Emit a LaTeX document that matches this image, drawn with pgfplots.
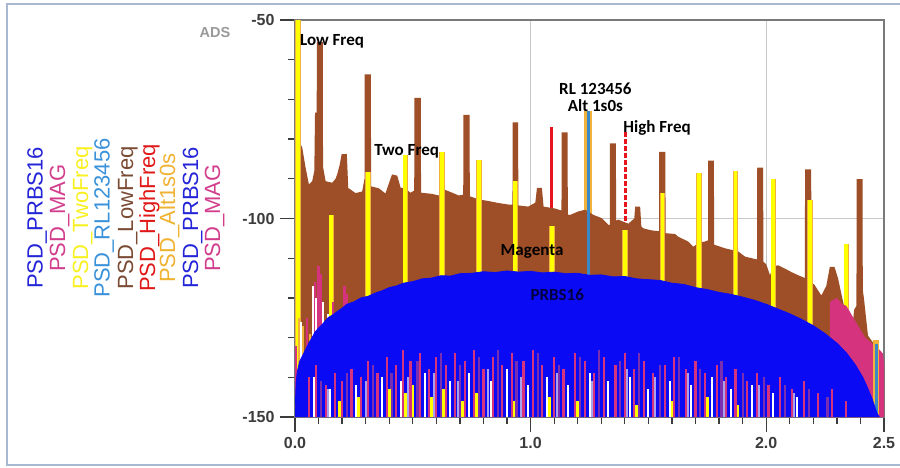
\documentclass[border=0pt]{standalone}
\usepackage{pgfplots}
\pgfplotsset{compat=1.18}
\usepackage{fontspec}
\setmainfont{Liberation Sans}
\newfontfamily\carlito{Carlito}
\definecolor{framec}{HTML}{A9B9D2}
\definecolor{brownc}{HTML}{9E4F27}
\definecolor{prbs}{HTML}{0A0AF5}
\definecolor{yel}{HTML}{FFFF00}
\definecolor{alt}{HTML}{F0B23A}
\definecolor{rl}{HTML}{3A88C8}
\definecolor{hf}{HTML}{E8141E}
\definecolor{mag}{HTML}{D6337F}
\definecolor{purp}{HTML}{7A2FB0}
\definecolor{lav}{HTML}{A8A0F0}
\definecolor{gridc}{HTML}{C8C8C8}
\definecolor{axc}{HTML}{7A7A7A}
\definecolor{tickc}{HTML}{3C3C3C}
\definecolor{lgblue}{HTML}{2424D8}
\definecolor{lgmag}{HTML}{D23E8C}
\definecolor{lgyel}{HTML}{F8F020}
\definecolor{lgrl}{HTML}{3A92DA}
\definecolor{lgbrown}{HTML}{7A4A32}
\definecolor{lgred}{HTML}{E01818}
\definecolor{lgalt}{HTML}{F0B232}
\pgfplotsset{spk/.style={unbounded coords=jump, line cap=butt, mark=none}}
\begin{document}
\begin{tikzpicture}
\useasboundingbox (0pt,0pt) rectangle (900pt,467pt);
\draw[framec, line width=2pt] (6.5pt,2pt) rectangle (910pt,463pt);
% legend (rotated)
\begin{scope}[every node/.style={rotate=90, anchor=base, inner sep=0pt, font=\fontsize{22}{22}\selectfont}]
\node[text=lgblue]  at (42.7pt,249pt) {PSD\_PRBS16};
\node[text=lgmag]   at (65pt,249pt) {PSD\_MAG};
\node[text=lgyel]   at (88pt,249pt) {PSD\_TwoFreq};
\node[text=lgrl]    at (109.5pt,249pt) {PSD\_RL123456};
\node[text=lgbrown] at (133pt,249pt) {PSD\_LowFreq};
\node[text=lgred]   at (155pt,249pt) {PSD\_HighFreq};
\node[text=lgalt]   at (175pt,249pt) {PSD\_Alt1s0s};
\node[text=lgblue]  at (198pt,249pt) {PSD\_PRBS16};
\node[text=lgmag]   at (220pt,249pt) {PSD\_MAG};
\end{scope}
\node[text=black!40, font=\bfseries\fontsize{14.5}{14.5}\selectfont, inner sep=0pt] at (215pt,434pt) {ADS};
\begin{axis}[
  at={(295pt,50pt)}, anchor=south west,
  scale only axis, width=589pt, height=397pt,
  xmin=0, xmax=2.5, ymin=-150, ymax=-50,
  xtick={0,1,2,2.5}, xticklabels={0.0,1.0,2.0,2.5},
  ytick={-150,-100,-50}, yticklabels={-150,-100,-50},
  minor xtick={0.1,0.2,0.3,0.4,0.5,0.6,0.7,0.8,0.9,1.1,1.2,1.3,1.4,1.5,1.6,1.7,1.8,1.9,2.1,2.2,2.3,2.4},
  minor ytick={-140,-130,-120,-110,-90,-80,-70,-60},
  xtick pos=lower, ytick pos=left, tick align=outside,
  major tick length=15pt, minor tick length=7pt,
  every tick/.style={tickc, line width=1.3pt},
  grid=major, major grid style={gridc, line width=1pt},
  axis line style={axc, line width=1.6pt},
  ticklabel style={font=\bfseries\fontsize{16}{16}\selectfont, text=tickc},
  xticklabel style={yshift=-2pt},
  yticklabel style={xshift=-2pt},
]
% HighFreq (red) spikes
\addplot[spk, hf, line width=3pt] coordinates {(1.09,-150)(1.09,-77)};
\addplot[spk, hf, line width=3pt, dash pattern=on 5pt off 2pt] coordinates {(1.404,-150)(1.404,-78.3)};
% Alt1s0s (orange) bar
\addplot[spk, alt, line width=8pt] coordinates {(1.245,-150)(1.245,-72.8)};
% LowFreq (brown) spectrum
\addplot[fill=brownc, draw=none] coordinates {
(0,-150)(0,-50)(0.006,-50)(0.007,-80)(0.017,-80.5)(0.031,-82.2)(0.045,-87.2)(0.059,-91.4)(0.073,-90.6)(0.082,-88)
(0.085,-73.3)(0.092,-73.3)(0.093,-55.5)(0.118,-55.5)(0.119,-87)(0.13,-90.6)(0.158,-91)(0.172,-90)(0.179,-88.9)(0.19,-86.4)
(0.198,-83.8)(0.22,-83.8)(0.226,-92.3)(0.257,-93.6)(0.285,-93.2)(0.295,-90)(0.296,-63.7)(0.322,-63.7)(0.323,-91.9)(0.356,-92.4)
(0.384,-93.7)(0.405,-90)(0.412,-88.9)(0.434,-89.2)(0.448,-92.2)(0.469,-92.5)(0.49,-93.5)(0.506,-93)(0.507,-69.6)(0.534,-69.6)
(0.535,-93.5)(0.582,-93.8)(0.61,-94.2)(0.625,-93)(0.638,-92.8)(0.667,-93.5)(0.695,-94.2)(0.714,-94)(0.715,-73.9)(0.741,-73.9)
(0.742,-94.4)(0.78,-95.2)(0.822,-95.6)(0.864,-96.1)(0.907,-96.5)(0.923,-96.5)(0.924,-75.8)(0.947,-75.8)(0.948,-96.7)(0.99,-97)
(1.02,-96)(1.027,-92.3)(1.048,-92.3)(1.055,-97)(1.105,-97.5)(1.131,-98)(1.132,-78.3)(1.157,-78.3)(1.158,-99)(1.168,-99.1)
(1.203,-98.2)(1.232,-97.8)(1.267,-99.1)(1.302,-99.9)(1.33,-101.6)(1.336,-101.6)(1.337,-81.1)(1.362,-81.1)(1.363,-100.5)(1.373,-100.3)
(1.415,-101.3)(1.44,-100)(1.444,-97)(1.465,-97)(1.47,-102)(1.479,-102.5)(1.514,-103)(1.545,-103.2)(1.546,-83.2)(1.572,-83.2)
(1.573,-103.7)(1.613,-103.9)(1.627,-104.6)(1.669,-105.8)(1.69,-107.1)(1.72,-106)(1.74,-105.8)(1.753,-105.5)(1.754,-85.4)(1.778,-85.4)
(1.779,-106.6)(1.825,-107.5)(1.881,-108.3)(1.91,-109.6)(1.938,-110)(1.961,-110.3)(1.962,-87.2)(1.987,-87.2)(1.988,-110.9)(2.0,-111.5)
(2.016,-114.3)(2.03,-112)(2.051,-111.8)(2.079,-112.6)(2.107,-113.5)(2.136,-114.3)(2.164,-115)(2.165,-87.6)(2.191,-87.6)(2.192,-116)
(2.206,-116.8)(2.234,-119.4)(2.255,-117)(2.27,-112.2)(2.29,-112.2)(2.305,-115.1)(2.333,-122.8)(2.361,-131.2)(2.373,-123)(2.383,-122)
(2.384,-90.1)(2.409,-90.1)(2.41,-118)(2.415,-120.2)(2.432,-129.5)(2.453,-131.2)(2.47,-133)(2.488,-136.7)(2.5,-137)(2.5,-150)};
% TwoFreq (yellow) spikes with golden edges
\addplot[spk, alt, line width=5.5pt] coordinates {
(0.012,-150)(0.012,-50)(0.012,nan) (0.154,-150)(0.154,-99)(0.154,nan) (0.31,-150)(0.31,-88.3)(0.31,nan)
(0.468,-150)(0.468,-84)(0.468,nan) (0.624,-150)(0.624,-83.3)(0.624,nan) (0.78,-150)(0.78,-85.3)(0.78,nan)
(0.935,-150)(0.935,-90.6)(0.935,nan) (1.09,-150)(1.09,-102)(1.09,nan) (1.40,-150)(1.40,-103)(1.40,nan)
(1.56,-150)(1.56,-93.6)(1.56,nan) (1.715,-150)(1.715,-88.6)(1.715,nan) (1.87,-150)(1.87,-88.1)(1.87,nan)
(2.03,-150)(2.03,-90.1)(2.03,nan) (2.185,-150)(2.185,-95.4)(2.185,nan) (2.34,-150)(2.34,-106.4)};
\addplot[spk, yel, line width=3.8pt] coordinates {
(0.012,-150)(0.012,-50)(0.012,nan) (0.154,-150)(0.154,-99)(0.154,nan) (0.31,-150)(0.31,-88.3)(0.31,nan)
(0.468,-150)(0.468,-84)(0.468,nan) (0.624,-150)(0.624,-83.3)(0.624,nan) (0.78,-150)(0.78,-85.3)(0.78,nan)
(0.935,-150)(0.935,-90.6)(0.935,nan) (1.09,-150)(1.09,-102)(1.09,nan) (1.40,-150)(1.40,-103)(1.40,nan)
(1.56,-150)(1.56,-93.6)(1.56,nan) (1.715,-150)(1.715,-88.6)(1.715,nan) (1.87,-150)(1.87,-88.1)(1.87,nan)
(2.03,-150)(2.03,-90.1)(2.03,nan) (2.185,-150)(2.185,-95.4)(2.185,nan) (2.34,-150)(2.34,-106.4)};
% RL123456 (steel blue) line
\addplot[spk, rl, line width=3pt] coordinates {(1.245,-150)(1.245,-72.8)};
% MAG near the band edges
\addplot[fill=mag, draw=none] coordinates {
(2.27,-150)(2.27,-121)(2.30,-120)(2.32,-121.5)(2.34,-122)(2.36,-124)(2.38,-126)(2.40,-128)(2.42,-130)
(2.44,-131)(2.46,-132)(2.48,-133)(2.495,-134)(2.5,-136)(2.5,-150)};
\addplot[spk, alt, line width=6pt] coordinates {(2.468,-150)(2.468,-130.5)};
\addplot[spk, rl, line width=3pt] coordinates {(2.468,-150)(2.468,-131.5)};
\addplot[spk, mag, line width=2.2pt] coordinates {
(0.004,-150)(0.004,-132)(0.004,nan) (0.02,-150)(0.02,-128)(0.02,nan) (0.03,-150)(0.03,-131)(0.03,nan)
(0.05,-150)(0.05,-125)(0.05,nan) (0.085,-150)(0.085,-116)(0.085,nan) (0.1,-150)(0.1,-112)(0.1,nan)
(0.11,-150)(0.11,-114)(0.11,nan) (0.21,-150)(0.21,-117)(0.21,nan) (0.22,-150)(0.22,-119)(0.22,nan)
(0.16,-150)(0.16,-121)};
\addplot[spk, white, line width=2pt] coordinates {
(0.025,-150)(0.025,-126)(0.025,nan) (0.075,-150)(0.075,-117)(0.075,nan) (0.09,-150)(0.09,-120)(0.09,nan)
(0.12,-150)(0.12,-121)(0.12,nan) (0.14,-150)(0.14,-124)};
\addplot[spk, alt, line width=2pt] coordinates {
(0.015,-150)(0.015,-125)(0.015,nan) (0.035,-150)(0.035,-127)(0.035,nan) (0.065,-150)(0.065,-129)};
% PRBS16 (blue)
\addplot[fill=prbs, draw=prbs, line width=0.8pt] coordinates {
(0,-150)(0.002,-146)(0.005,-141)(0.01,-138.5)(0.02,-136)(0.03,-134.8)(0.045,-133)(0.06,-131.2)(0.07,-130.3)(0.085,-128.6)
(0.1,-127.6)(0.12,-126.4)(0.14,-125)(0.16,-124.3)(0.18,-123.4)(0.2,-122.6)(0.22,-121.6)(0.25,-121)(0.28,-120)(0.31,-119.6)
(0.34,-118.8)(0.37,-118.2)(0.4,-117.4)(0.43,-117)(0.46,-116.3)(0.5,-115.9)(0.54,-115.2)(0.58,-115)(0.62,-114.4)(0.66,-114.5)
(0.7,-113.9)(0.75,-113.8)(0.8,-113.4)(0.85,-113.6)(0.9,-113.2)(0.95,-113.5)(1.0,-113.3)(1.05,-113.7)(1.1,-113.5)(1.15,-113.9)
(1.2,-113.8)(1.25,-114.3)(1.3,-114.2)(1.35,-114.7)(1.4,-114.6)(1.45,-115.2)(1.5,-115.4)(1.55,-115.6)(1.6,-116.3)(1.65,-116.6)
(1.7,-117.4)(1.75,-117.9)(1.8,-118.6)(1.85,-119.1)(1.9,-119.8)(1.95,-120.6)(2.0,-121.6)(2.05,-122.8)(2.1,-124)(2.15,-125.4)
(2.2,-127)(2.25,-129)(2.3,-131.4)(2.34,-133.8)(2.38,-137)(2.41,-140)(2.43,-142.6)(2.45,-145.5)(2.47,-149)(2.48,-150)};
% low-level noise of the other records over the blue
\addplot[spk, mag, line width=2.2pt] coordinates {
(0.06,-150)(0.06,-140)(0.06,nan) (0.09,-150)(0.09,-137)(0.09,nan) (0.13,-150)(0.13,-142)(0.13,nan)
(0.17,-150)(0.17,-139)(0.17,nan) (0.2,-150)(0.2,-141)(0.2,nan) (0.24,-150)(0.24,-138)(0.24,nan)
(0.28,-150)(0.28,-140)(0.28,nan) (0.31,-150)(0.31,-136)(0.31,nan) (0.35,-150)(0.35,-139)(0.35,nan)
(0.39,-150)(0.39,-135)(0.39,nan) (0.43,-150)(0.43,-137)(0.43,nan) (0.46,-150)(0.46,-133)(0.46,nan)
(0.49,-150)(0.49,-136)(0.49,nan) (0.53,-150)(0.53,-134)(0.53,nan) (0.57,-150)(0.57,-138)(0.57,nan)
(0.6,-150)(0.6,-135)(0.6,nan) (0.64,-150)(0.64,-137)(0.64,nan) (0.68,-150)(0.68,-134)(0.68,nan)
(0.72,-150)(0.72,-136)(0.72,nan) (0.76,-150)(0.76,-133)(0.76,nan) (0.8,-150)(0.8,-138)(0.8,nan)
(0.84,-150)(0.84,-135)(0.84,nan) (0.88,-150)(0.88,-137)(0.88,nan) (0.92,-150)(0.92,-134)(0.92,nan)
(0.97,-150)(0.97,-136)(0.97,nan) (1.01,-150)(1.01,-133)(1.01,nan) (1.05,-150)(1.05,-137)(1.05,nan)
(1.1,-150)(1.1,-135)(1.1,nan) (1.14,-150)(1.14,-138)(1.14,nan) (1.19,-150)(1.19,-134)(1.19,nan)
(1.23,-150)(1.23,-136)(1.23,nan) (1.27,-150)(1.27,-139)(1.27,nan) (1.31,-150)(1.31,-135)(1.31,nan)
(1.36,-150)(1.36,-137)(1.36,nan) (1.4,-150)(1.4,-134)(1.4,nan) (1.44,-150)(1.44,-138)(1.44,nan)
(1.48,-150)(1.48,-136)(1.48,nan) (1.52,-150)(1.52,-139)(1.52,nan) (1.57,-150)(1.57,-137)(1.57,nan)
(1.61,-150)(1.61,-135)(1.61,nan) (1.66,-150)(1.66,-138)(1.66,nan) (1.7,-150)(1.7,-136)(1.7,nan)
(1.74,-150)(1.74,-139)(1.74,nan) (1.79,-150)(1.79,-137)(1.79,nan) (1.83,-150)(1.83,-140)(1.83,nan)
(1.87,-150)(1.87,-138)(1.87,nan) (1.92,-150)(1.92,-141)(1.92,nan) (1.96,-150)(1.96,-139)(1.96,nan)
(2.01,-150)(2.01,-142)(2.01,nan) (2.06,-150)(2.06,-140)(2.06,nan) (2.11,-150)(2.11,-143)(2.11,nan)
(2.16,-150)(2.16,-141)(2.16,nan) (2.22,-150)(2.22,-144)(2.22,nan) (2.28,-150)(2.28,-143)(2.28,nan)
(2.34,-150)(2.34,-146)};
\addplot[spk, purp, line width=2.2pt] coordinates {
(0.11,-150)(0.11,-141)(0.11,nan) (0.22,-150)(0.22,-139)(0.22,nan) (0.33,-150)(0.33,-137)(0.33,nan)
(0.41,-150)(0.41,-139)(0.41,nan) (0.52,-150)(0.52,-136)(0.52,nan) (0.62,-150)(0.62,-134)(0.62,nan)
(0.7,-150)(0.7,-137)(0.7,nan) (0.78,-150)(0.78,-135)(0.78,nan) (0.86,-150)(0.86,-133)(0.86,nan)
(0.94,-150)(0.94,-136)(0.94,nan) (1.03,-150)(1.03,-134)(1.03,nan) (1.12,-150)(1.12,-137)(1.12,nan)
(1.21,-150)(1.21,-135)(1.21,nan) (1.29,-150)(1.29,-133)(1.29,nan) (1.38,-150)(1.38,-136)(1.38,nan)
(1.46,-150)(1.46,-134)(1.46,nan) (1.55,-150)(1.55,-137)(1.55,nan) (1.63,-150)(1.63,-135)(1.63,nan)
(1.72,-150)(1.72,-138)(1.72,nan) (1.81,-150)(1.81,-136)(1.81,nan) (1.9,-150)(1.9,-139)(1.9,nan)
(1.99,-150)(1.99,-140)(1.99,nan) (2.08,-150)(2.08,-142)(2.08,nan) (2.18,-150)(2.18,-143)(2.18,nan)
(2.26,-150)(2.26,-145)};
\addplot[spk, lav, line width=2pt] coordinates {
(0.14,-150)(0.14,-143)(0.14,nan) (0.3,-150)(0.3,-141)(0.3,nan) (0.48,-150)(0.48,-140)(0.48,nan)
(0.59,-150)(0.59,-139)(0.59,nan) (0.69,-150)(0.69,-141)(0.69,nan) (0.82,-150)(0.82,-138)(0.82,nan)
(0.96,-150)(0.96,-140)(0.96,nan) (1.11,-150)(1.11,-139)(1.11,nan) (1.26,-150)(1.26,-141)(1.26,nan)
(1.41,-150)(1.41,-138)(1.41,nan) (1.53,-150)(1.53,-140)(1.53,nan) (1.67,-150)(1.67,-139)(1.67,nan)
(1.82,-150)(1.82,-141)(1.82,nan) (1.97,-150)(1.97,-142)(1.97,nan) (2.12,-150)(2.12,-144)};
\addplot[spk, white, line width=2pt] coordinates {
(0.08,-150)(0.08,-140)(0.08,nan) (0.15,-150)(0.15,-143)(0.15,nan) (0.26,-150)(0.26,-142)(0.26,nan)
(0.37,-150)(0.37,-140)(0.37,nan) (0.45,-150)(0.45,-141)(0.45,nan) (0.55,-150)(0.55,-139)(0.55,nan)
(0.66,-150)(0.66,-141)(0.66,nan) (0.74,-150)(0.74,-139)(0.74,nan) (0.83,-150)(0.83,-141)(0.83,nan)
(0.9,-150)(0.9,-138)(0.9,nan) (0.99,-150)(0.99,-142)(0.99,nan) (1.07,-150)(1.07,-140)(1.07,nan)
(1.16,-150)(1.16,-142)(1.16,nan) (1.25,-150)(1.25,-139)(1.25,nan) (1.33,-150)(1.33,-141)(1.33,nan)
(1.42,-150)(1.42,-140)(1.42,nan) (1.5,-150)(1.5,-143)(1.5,nan) (1.59,-150)(1.59,-141)(1.59,nan)
(1.68,-150)(1.68,-142)(1.68,nan) (1.77,-150)(1.77,-140)(1.77,nan) (1.85,-150)(1.85,-143)(1.85,nan)
(1.94,-150)(1.94,-142)(1.94,nan) (2.03,-150)(2.03,-144)(2.03,nan) (2.13,-150)(2.13,-145)};
\addplot[spk, yel, line width=2.6pt] coordinates {
(0.19,-150)(0.19,-146)(0.19,nan) (0.27,-150)(0.27,-145)(0.27,nan) (0.4,-150)(0.4,-143)(0.4,nan)
(0.47,-150)(0.47,-144)(0.47,nan) (0.5,-150)(0.5,-142)(0.5,nan) (0.58,-150)(0.58,-145)(0.58,nan)
(0.63,-150)(0.63,-143)(0.63,nan) (0.71,-150)(0.71,-146)(0.71,nan) (0.77,-150)(0.77,-144)(0.77,nan)
(0.93,-150)(0.93,-146)(0.93,nan) (1.08,-150)(1.08,-145)(1.08,nan) (1.2,-150)(1.2,-146)(1.2,nan)
(1.45,-150)(1.45,-147)(1.45,nan) (1.6,-150)(1.6,-146)(1.6,nan) (1.75,-150)(1.75,-145)(1.75,nan)
(1.88,-150)(1.88,-147)};
% annotations
\begin{scope}[every node/.style={font=\carlito\bfseries\fontsize{17}{17}\selectfont, inner sep=0pt}]
\node[anchor=west] at (axis cs:0.021,-55.3) {Low Freq};
\node at (axis cs:0.474,-83.0) {Two Freq};
\node at (axis cs:1.275,-67.4) {RL 123456};
\node at (axis cs:1.275,-71.6) {Alt 1s0s};
\node at (axis cs:1.537,-77.1) {High Freq};
\node at (axis cs:1.006,-108.4) {Magenta};
\node[text=black!75!blue] at (axis cs:1.113,-119.3) {PRBS16};
\end{scope}
\end{axis}
\end{tikzpicture}
\end{document}
